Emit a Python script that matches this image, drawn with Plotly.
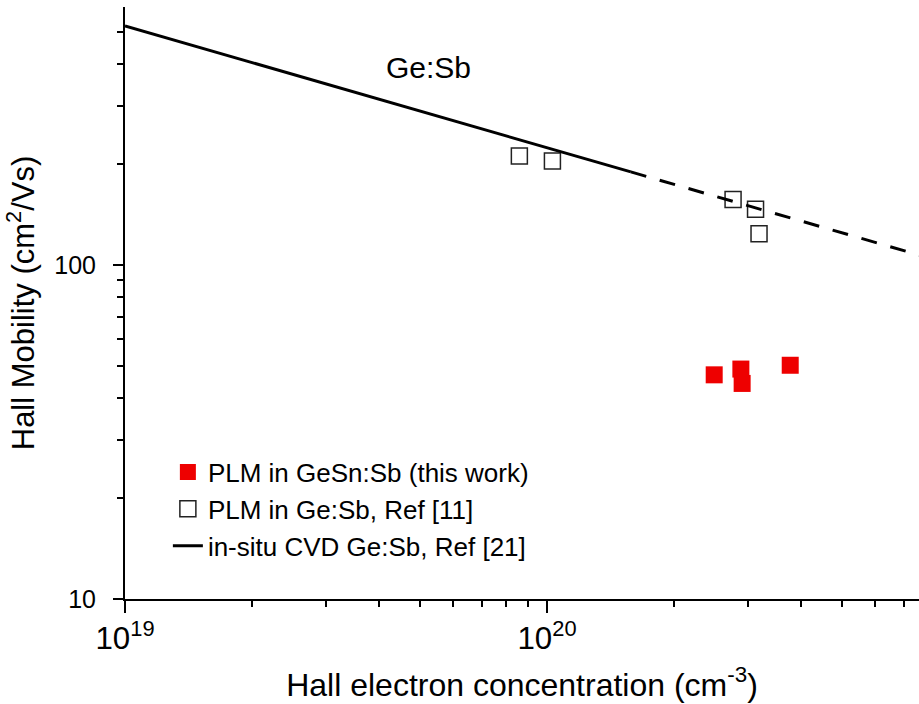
import plotly.graph_objects as go

# Data
n_this_work = [2.49e20, 2.88e20, 2.90e20, 3.77e20]
mu_this_work = [46.9, 48.8, 44.2, 50.1]

n_ref11 = [8.6e19, 1.03e20, 2.76e20, 3.12e20, 3.18e20]
mu_ref11 = [212, 205, 157, 147, 124]

n_cvd_solid = [1e19, 1.58e20]
mu_cvd_solid = [520, 190]
n_cvd_dash = [1.58e20, 1e21]
mu_cvd_dash = [190, 97]

x_range = [19, 20.8815]
y_range = [1, 2.7725]

FONT = "Arial, Liberation Sans, sans-serif"

fig = go.Figure()

fig.add_trace(go.Scatter(
    x=n_this_work, y=mu_this_work, mode="markers",
    name="PLM in GeSn:Sb (this work)",
    marker=dict(symbol="square", size=17, color="#ee0000", line=dict(width=0)),
))
fig.add_trace(go.Scatter(
    x=n_ref11, y=mu_ref11, mode="markers",
    name="PLM in Ge:Sb, Ref [11]",
    marker=dict(symbol="square-open", size=16, color="#222222", line=dict(width=1.5)),
))
fig.add_trace(go.Scatter(
    x=n_cvd_solid, y=mu_cvd_solid, mode="lines",
    name="in-situ CVD Ge:Sb, Ref [21]",
    line=dict(color="black", width=3),
))
fig.add_trace(go.Scatter(
    x=n_cvd_dash, y=mu_cvd_dash, mode="lines",
    showlegend=False,
    line=dict(color="black", width=3, dash="16px,14px"),
))

fig.add_annotation(
    x=19.718, y=2.590, xref="x", yref="y", text="Ge:Sb", showarrow=False,
    font=dict(size=30, color="black", family=FONT),
)

fig.update_layout(
    width=919, height=704,
    margin=dict(l=125, r=0, t=7, b=105),
    paper_bgcolor="white", plot_bgcolor="white",
    font=dict(family=FONT, color="black"),
    showlegend=True,
    legend=dict(
        x=0.054, y=0.254, xanchor="left", yanchor="top",
        font=dict(size=26, family=FONT, color="black"),
        bgcolor="rgba(0,0,0,0)", tracegroupgap=0,
    ),
    xaxis=dict(
        type="log", range=x_range, dtick=1, exponentformat="power",
        showgrid=False, zeroline=False,
        showline=True, linecolor="black", linewidth=2,
        ticks="outside", ticklen=12, tickwidth=2, tickcolor="black",
        minor=dict(ticks="outside", ticklen=6, tickwidth=2, tickcolor="black", dtick="D1", showgrid=False),
        tickfont=dict(size=25, family=FONT),
        title=dict(text="Hall electron concentration (cm<sup>-3</sup>)", font=dict(size=32, family=FONT), standoff=18),
    ),
    xaxis2=dict(
        type="log", range=x_range, dtick=1, overlaying="x", side="top", anchor="y",
        showgrid=False, zeroline=False, showticklabels=False,
        showline=True, linecolor="black", linewidth=2,
        ticks="inside", ticklen=8, tickwidth=2, tickcolor="black",
        minor=dict(ticks="inside", ticklen=5, tickwidth=2, tickcolor="black", dtick="D1", showgrid=False),
    ),
    yaxis=dict(
        type="log", range=y_range, dtick=1, exponentformat="none",
        showgrid=False, zeroline=False,
        showline=True, linecolor="black", linewidth=2,
        ticks="outside", ticklen=10, tickwidth=2, tickcolor="black",
        minor=dict(ticks="outside", ticklen=6, tickwidth=2, tickcolor="black", dtick="D1", showgrid=False),
        tickfont=dict(size=25, family=FONT),
        ticklabelstandoff=12,
        title=dict(text="Hall Mobility (cm<sup>2</sup>/Vs)", font=dict(size=31, family=FONT), standoff=10),
    ),
)

fig.write_html("out.html")
